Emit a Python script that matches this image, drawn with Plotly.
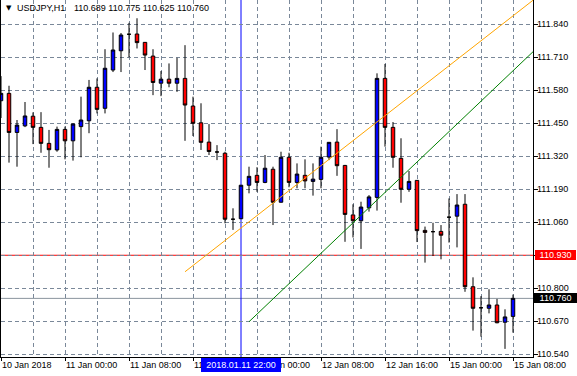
import plotly.graph_objects as go

# ---------------- data ----------------
symbol = "USDJPY,H1"
last_ohlc = "110.689 110.775 110.625 110.760"

opens = [111.539, 111.568, 111.414, 111.440, 111.478, 111.434, 111.371, 111.345,
         111.426, 111.381, 111.437, 111.460, 111.592, 111.509, 111.660, 111.736,
         111.801, 111.802, 111.769, 111.715, 111.608, 111.624, 111.608, 111.627,
         111.518, 111.452, 111.376, 111.337, 111.332, 111.072, 111.074, 111.206,
         111.245, 111.217, 111.269, 111.139, 111.316, 111.217, 111.245, 111.221,
         111.229, 111.317, 111.376, 111.284, 111.089, 111.066, 111.117, 111.158,
         111.627, 111.434, 111.312, 111.190, 111.225, 111.028, 111.023, 111.024,
         111.080, 111.084, 111.131, 110.806, 110.723, 110.721, 110.734, 110.666,
         110.689]
highs = [111.636, 111.598, 111.463, 111.534, 111.493, 111.494, 111.424, 111.437,
         111.437, 111.450, 111.555, 111.621, 111.627, 111.742, 111.808, 111.806,
         111.846, 111.864, 111.770, 111.742, 111.656, 111.686, 111.708, 111.758,
         111.555, 111.529, 111.447, 111.364, 111.338, 111.115, 111.207, 111.279,
         111.277, 111.325, 111.279, 111.338, 111.334, 111.292, 111.308, 111.292,
         111.358, 111.376, 111.427, 111.286, 111.131, 111.141, 111.167, 111.647,
         111.684, 111.455, 111.391, 111.262, 111.225, 111.043, 111.058, 111.049,
         111.154, 111.171, 111.171, 110.843, 110.769, 110.796, 110.758, 110.717,
         110.775]
lows = [111.471, 111.295, 111.279, 111.435, 111.368, 111.334, 111.275, 111.338,
        111.308, 111.303, 111.316, 111.411, 111.489, 111.489, 111.652, 111.652,
        111.710, 111.745, 111.660, 111.561, 111.557, 111.592, 111.574, 111.381,
        111.400, 111.345, 111.325, 111.305, 111.056, 111.030, 111.073, 111.174,
        111.180, 111.214, 111.049, 111.138, 111.198, 111.194, 111.194, 111.165,
        111.194, 111.305, 111.243, 110.983, 111.000, 110.955, 111.102, 111.106,
        111.358, 111.275, 111.137, 111.180, 110.982, 110.901, 110.927, 110.914,
        110.980, 110.961, 110.786, 110.633, 110.609, 110.701, 110.662, 110.561,
        110.625]
closes = [111.568, 111.414, 111.443, 111.479, 111.434, 111.371, 111.346, 111.426,
          111.381, 111.447, 111.463, 111.592, 111.505, 111.667, 111.739, 111.798,
          111.801, 111.768, 111.719, 111.611, 111.624, 111.608, 111.627, 111.522,
          111.450, 111.375, 111.339, 111.337, 111.072, 111.072, 111.206, 111.241,
          111.217, 111.273, 111.139, 111.316, 111.217, 111.250, 111.223, 111.230,
          111.316, 111.375, 111.283, 111.091, 111.066, 111.120, 111.160, 111.627,
          111.434, 111.316, 111.190, 111.221, 111.027, 111.020, 111.023, 111.009,
          111.080, 111.128, 110.806, 110.721, 110.723, 110.734, 110.664, 110.687,
          110.760]
bar_index = list(range(len(opens)))

tick_positions = [0, 8, 16, 24, 32, 40, 48, 56, 64]
tick_labels = ["10 Jan 2018", "11 Jan 00:00", "11 Jan 08:00", "11 Jan 16:00",
               "12 Jan 00:00", "12 Jan 08:00", "12 Jan 16:00", "15 Jan 00:00",
               "15 Jan 08:00"]
price_ticks = [110.54, 110.67, 110.80, 110.93, 111.06, 111.19, 111.32,
               111.45, 111.58, 111.71, 111.84]

level_price = 110.93
bid_price = 110.76
vline_bar = 30
vline_label = "2018.01.11 22:00"
orange_bars = [23.0, 66.5]
orange_prices = [110.865, 111.935]
green_bars = [31.0, 66.5]
green_prices = [110.668, 111.732]

# ---------------- figure ----------------
FONT = "Liberation Sans, Arial, sans-serif"
GRID = "#7a8899"

fig = go.Figure()
fig.add_trace(go.Candlestick(
    x=bar_index, open=opens, high=highs, low=lows, close=closes,
    increasing=dict(fillcolor="#0000ff", line=dict(color="black", width=1)),
    decreasing=dict(fillcolor="#ff0000", line=dict(color="black", width=1)),
    whiskerwidth=0, showlegend=False, hoverinfo="skip"))
fig.add_trace(go.Scatter(x=orange_bars, y=orange_prices, mode="lines",
                         line=dict(color="#ffa500", width=1), showlegend=False,
                         hoverinfo="skip"))
fig.add_trace(go.Scatter(x=green_bars, y=green_prices, mode="lines",
                         line=dict(color="#008000", width=1), showlegend=False,
                         hoverinfo="skip"))

fig.add_shape(type="line", xref="paper", x0=0, x1=1, yref="y",
              y0=level_price, y1=level_price, line=dict(color="#ff0000", width=1),
              layer="below")
fig.add_shape(type="line", xref="paper", x0=0, x1=1, yref="y",
              y0=bid_price, y1=bid_price, line=dict(color="#8a949e", width=1),
              layer="below")
fig.add_shape(type="line", xref="x", x0=vline_bar, x1=vline_bar, yref="paper",
              y0=0, y1=1, line=dict(color="#0000ff", width=1), layer="below")

annotations = []
for pos, lab in zip(tick_positions, tick_labels):
    annotations.append(dict(x=pos, xref="x", y=0, yref="paper", text=lab,
                            xanchor="left", yanchor="top", showarrow=False,
                            xshift=-1, yshift=-1,
                            font=dict(family=FONT, size=9, color="black")))
for p in price_ticks:
    if abs(p - level_price) < 1e-9:
        continue  # covered by the level's own price box
    annotations.append(dict(x=1, xref="paper", y=p, yref="y", text=f"{p:.3f}",
                            xanchor="left", yanchor="middle", showarrow=False,
                            xshift=4, borderpad=0, borderwidth=0,
                            font=dict(family=FONT, size=9, color="black")))
annotations.append(dict(x=vline_bar, xref="x", y=0, yref="paper", text=vline_label,
                        xanchor="center", yanchor="top", showarrow=False,
                        yshift=-1, bgcolor="#0000ff", borderpad=2, borderwidth=0,
                        width=76,
                        font=dict(family=FONT, size=9, color="white")))
annotations.append(dict(x=1, xref="paper", y=level_price, yref="y",
                        text=f"{level_price:.3f}", xanchor="left", yanchor="middle",
                        showarrow=False, xshift=2, bgcolor="#ff0000", borderpad=0,
                        borderwidth=0, width=41,
                        font=dict(family=FONT, size=9, color="white")))
annotations.append(dict(x=1, xref="paper", y=bid_price, yref="y",
                        text=f"{bid_price:.3f}", xanchor="left", yanchor="middle",
                        showarrow=False, xshift=1, bgcolor="#000000", borderpad=0,
                        borderwidth=0, width=43,
                        font=dict(family=FONT, size=9, color="white")))
annotations.append(dict(x=0, xref="paper", y=1, yref="paper", text="▼",
                        xanchor="left", yanchor="top", showarrow=False,
                        xshift=3, yshift=-2,
                        font=dict(family="DejaVu Sans", size=7, color="black")))
annotations.append(dict(x=0, xref="paper", y=1, yref="paper", text=symbol,
                        xanchor="left", yanchor="top", showarrow=False,
                        xshift=14, yshift=-1,
                        font=dict(family=FONT, size=9, color="black")))
annotations.append(dict(x=0, xref="paper", y=1, yref="paper", text=last_ohlc,
                        xanchor="left", yanchor="top", showarrow=False,
                        xshift=71, yshift=-1,
                        font=dict(family=FONT, size=9, color="black")))

fig.update_layout(
    width=577, height=376,
    margin=dict(l=1, r=44, t=0, b=19),
    paper_bgcolor="white", plot_bgcolor="white",
    hovermode=False, boxgap=0.38,
    annotations=annotations,
    xaxis=dict(
        range=[0, 66.5], rangeslider=dict(visible=False),
        tickmode="array", tickvals=tick_positions, showticklabels=False,
        ticks="outside", ticklen=3, tickcolor="black",
        showgrid=True, gridcolor=GRID, griddash="4px,3px", gridwidth=1,
        minor=dict(tick0=0, dtick=4, showgrid=True, gridcolor=GRID,
                   griddash="4px,3px", gridwidth=1, ticks=""),
        showline=True, linecolor="black", linewidth=1, zeroline=False,
        fixedrange=True),
    yaxis=dict(
        side="right", range=[110.529, 111.936],
        tickmode="array", tickvals=price_ticks, showticklabels=False,
        ticks="outside", ticklen=4, tickcolor="black",
        showgrid=True, gridcolor=GRID, griddash="4px,3px", gridwidth=1,
        showline=True, linecolor="black", linewidth=1, mirror=True,
        zeroline=False, fixedrange=True),
)

fig.write_html("out.html",
               config={"displayModeBar": False, "staticPlot": True},
               post_script="document.body.style.margin='0';"
                           "document.body.style.padding='0';")
